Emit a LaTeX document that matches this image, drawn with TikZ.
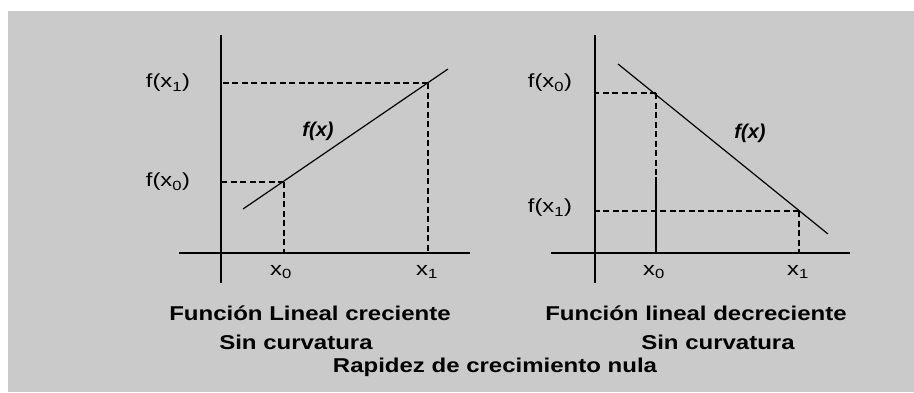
\documentclass[tikz,border=0pt]{standalone}
\usepackage{fontspec}
\setmainfont{Liberation Sans}
\newfontfamily\lblfont[FakeStretch=1.25]{Liberation Sans}
\newfontfamily\capfont[FakeStretch=1.2]{Liberation Sans}
\usetikzlibrary{positioning,calc}
\definecolor{fondo}{RGB}{202,202,202}
\tikzset{
    eje/.style={line width=1.6pt},
    guia/.style={dash pattern=on 6pt off 3.5pt,line width=1.5pt},
    recta/.style={line width=1.2pt},
    etq/.style={font=\lblfont\fontsize{19}{19}\selectfont,inner sep=0pt},
    fx/.style={font=\bfseries\itshape\fontsize{20}{20}\selectfont,inner sep=0pt},
    tit/.style={font=\capfont\bfseries\fontsize{20}{20}\selectfont,inner sep=0pt}
}

\begin{document}
\begin{tikzpicture}[x=1pt,y=-1pt]
    \useasboundingbox (0,0) rectangle (914,392);
    \fill[fondo] (8,11) rectangle (914,392);
    % creciente
    \coordinate (O1) at (221,253);
    \coordinate (ejx1a) at (179,253);
    \coordinate (ejx1b) at (470,253);
    \coordinate (ejy1a) at (221,35);
    \coordinate (ejy1b) at (221,283);
    \coordinate (a0) at (284,182);
    \coordinate (a1) at (428,83);
    \coordinate (s1) at (243,209);
    \coordinate (e1) at (448,69);
    \draw[eje] (ejx1a) -- (ejx1b);
    \draw[eje] (ejy1a) -- (ejy1b);
    \draw[guia] (a0) -- (a0 -| O1);
    \draw[guia] (a0) -- (a0 |- O1);
    \draw[guia] (a1) -- (a1 -| O1);
    \draw[guia] (a1) -- (a1 |- O1);
    \draw[recta] (s1) -- (e1);
    \node[etq] (fa1) at (168,83) {f(x\textsubscript{1})};
    \node[etq] (fa0) at (168,182) {f(x\textsubscript{0})};
    \node[etq] (xa0) at (281,272) {x\textsubscript{0}};
    \node[etq] (xa1) at (427,272) {x\textsubscript{1}};
    \node[fx] (fxa) at (318,131) {f(x)};
    % decreciente
    \coordinate (O2) at (595,253);
    \coordinate (ejx2a) at (551,253);
    \coordinate (ejx2b) at (850,253);
    \coordinate (ejy2a) at (595,35);
    \coordinate (ejy2b) at (595,283);
    \coordinate (b0) at (656,93);
    \coordinate (b1) at (799,211);
    \coordinate (b0c) at (656,177);
    \coordinate (s2) at (618,64);
    \coordinate (e2) at (828,234);
    \draw[eje] (ejx2a) -- (ejx2b);
    \draw[eje] (ejy2a) -- (ejy2b);
    \draw[guia] (b0) -- (b0 -| O2);
    \draw[guia] (b0) -- (b0c);
    \draw[recta] (b0c) -- (b0c |- O2);
    \draw[guia] (b1) -- (b1 -| O2);
    \draw[guia] (b1) -- (b1 |- O2);
    \draw[recta] (s2) -- (e2);
    \node[etq] (fb0) at (550,83) {f(x\textsubscript{0})};
    \node[etq] (fb1) at (550,208) {f(x\textsubscript{1})};
    \node[etq] (xb0) at (654,272) {x\textsubscript{0}};
    \node[etq] (xb1) at (798,272) {x\textsubscript{1}};
    \node[fx] (fxb) at (750,133) {f(x)};
    % titulos
    \node[tit] (t1) at (310,313) {Función Lineal creciente};
    \node[tit] (t2) at (296,342) {Sin curvatura};
    \node[tit] (t3) at (696,313) {Función lineal decreciente};
    \node[tit] (t4) at (718,342) {Sin curvatura};
    \node[tit] (t5) at (495,367) {Rapidez de crecimiento nula};
\end{tikzpicture}
\end{document}
